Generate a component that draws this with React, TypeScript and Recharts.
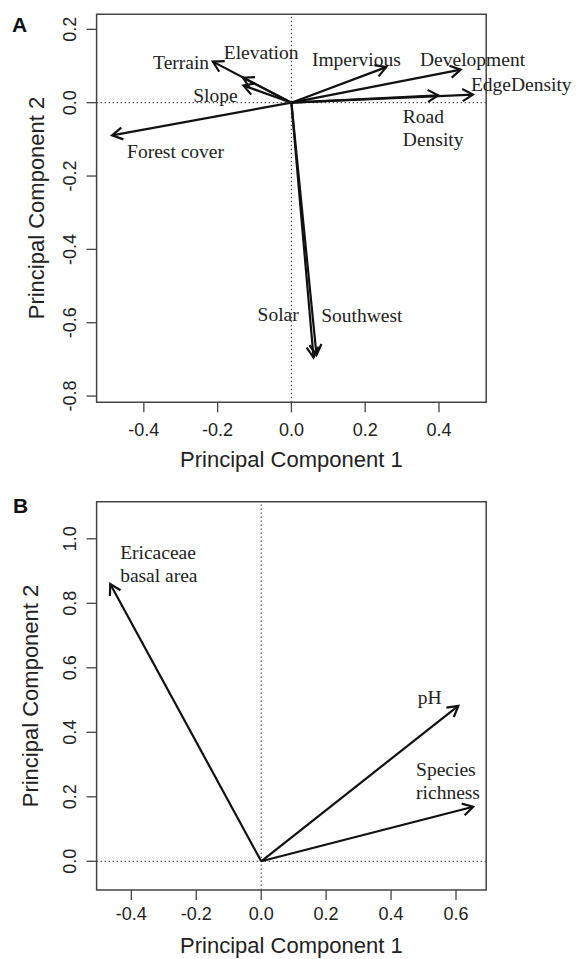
import React from "react";
import { ScatterChart, Scatter, XAxis, YAxis, ReferenceLine, ReferenceDot, ReferenceArea } from "recharts";

// Panel A: landscape variable loadings
const varsA = ["Terrain", "Elevation", "Slope", "Impervious", "Development", "Road Density", "EdgeDensity", "Forest cover", "Solar", "Southwest"];
const pc1A = [-0.213, -0.131, -0.13, 0.257, 0.459, 0.398, 0.492, -0.486, 0.06, 0.068];
const pc2A = [0.112, 0.068, 0.047, 0.097, 0.09, 0.02, 0.022, -0.089, -0.695, -0.688];
const labelsA = ["Terrain", "Elevation", "Slope", "Impervious", "Development", "Road\nDensity", "EdgeDensity", "Forest cover", "Solar", "Southwest"];
const labelPc1A = [-0.299, -0.082, -0.206, 0.176, 0.491, 0.302, 0.623, -0.314, -0.036, 0.191];
const labelPc2A = [0.112, 0.138, 0.022, 0.12, 0.12, -0.069, 0.052, -0.132, -0.576, -0.58];
const xTicksA = [-0.4, -0.2, 0, 0.2, 0.4];
const yTicksA = [-0.8, -0.6, -0.4, -0.2, 0, 0.2];

// Panel B: plot variable loadings
const varsB = ["Ericaceae basal area", "pH", "Species richness"];
const pc1B = [-0.465, 0.607, 0.653];
const pc2B = [0.86, 0.482, 0.169];
const labelsB = ["Ericaceae\nbasal area", "pH", "Species\nrichness"];
const labelPc1B = [-0.4345, 0.519, 0.477];
const labelPc2B = [0.9225, 0.5085, 0.249];
const xTicksB = [-0.4, -0.2, 0, 0.2, 0.4, 0.6];
const yTicksB = [0, 0.2, 0.4, 0.6, 0.8, 1.0];

const LEFT_ALIGNED = new Set(["Road\nDensity", "Ericaceae\nbasal area", "Species\nrichness"]);

const SANS = "'Liberation Sans', Arial, Helvetica, sans-serif";
const SERIF = "'Liberation Serif', 'Times New Roman', serif";
const AXIS = "#444";

function Arrow(props: any) {
  const { x1, y1, x2, y2 } = props;
  const a = Math.atan2(y2 - y1, x2 - x1);
  const len = 12;
  const sp = Math.PI / 6;
  const lx = x2 - len * Math.cos(a - sp);
  const ly = y2 - len * Math.sin(a - sp);
  const rx = x2 - len * Math.cos(a + sp);
  const ry = y2 - len * Math.sin(a + sp);
  return (
    <g>
      <line x1={x1} y1={y1} x2={x2} y2={y2} stroke="#111" strokeWidth={2.2} />
      <polyline points={`${lx},${ly} ${x2},${y2} ${rx},${ry}`} fill="none" stroke="#111" strokeWidth={2.2} />
    </g>
  );
}

function labelShape(text: string) {
  return (p: any) => {
    const lines = text.split("\n");
    const lh = 23;
    const y0 = p.cy - ((lines.length - 1) * lh) / 2;
    return (
      <text x={p.cx} y={y0} textAnchor={LEFT_ALIGNED.has(text) ? "start" : "middle"} dominantBaseline="central" fontFamily={SERIF} fontSize={19.5} fill="#222">
        {lines.map((l, i) => (
          <tspan key={i} x={p.cx} dy={i === 0 ? 0 : lh}>{l}</tspan>
        ))}
      </text>
    );
  };
}

const fmt = (v: number) => v.toFixed(1);

const xTick = (dy: number) => (p: any) => (
  <text x={p.x} y={p.y + dy} textAnchor="middle" dominantBaseline="central" fontFamily={SANS} fontSize={18} fill="#222">
    {fmt(p.payload.value)}
  </text>
);

const yTick = (dx: number) => (p: any) => (
  <text x={p.x + dx} y={p.y} textAnchor="middle" dominantBaseline="central" fontFamily={SANS} fontSize={18} fill="#222" transform={`rotate(-90 ${p.x + dx} ${p.y})`}>
    {fmt(p.payload.value)}
  </text>
);

type PanelProps = {
  top: number;
  height: number;
  marginTop: number;
  xAxisHeight: number;
  xDomain: [number, number];
  yDomain: [number, number];
  xTicks: number[];
  yTicks: number[];
  names: string[];
  pc1: number[];
  pc2: number[];
  labels: string[];
  labelPc1: number[];
  labelPc2: number[];
  xTickDy: number;
};

function Panel(props: PanelProps) {
  const tips = props.names.map((name, i) => ({ name, pc1: props.pc1[i], pc2: props.pc2[i] }));
  return (
    <div style={{ position: "absolute", left: 0, top: props.top }}>
      <ScatterChart width={583} height={props.height} margin={{ top: props.marginTop, right: 96.8, bottom: 0, left: 0 }}>
        <XAxis
          type="number"
          dataKey="pc1"
          domain={props.xDomain}
          allowDataOverflow
          ticks={props.xTicks}
          height={props.xAxisHeight}
          axisLine={false}
          tickSize={10}
          tickMargin={2}
          tickLine={{ stroke: AXIS, strokeWidth: 1.3 }}
          tick={xTick(props.xTickDy)}
          interval={0}
        />
        <YAxis
          type="number"
          dataKey="pc2"
          domain={props.yDomain}
          allowDataOverflow
          ticks={props.yTicks}
          width={96.6}
          axisLine={false}
          tickSize={10}
          tickMargin={2}
          tickLine={{ stroke: AXIS, strokeWidth: 1.3 }}
          tick={yTick(-15)}
          interval={0}
        />
        <ReferenceArea
          x1={props.xDomain[0]}
          x2={props.xDomain[1]}
          y1={props.yDomain[0]}
          y2={props.yDomain[1]}
          fill="none"
          fillOpacity={0}
          stroke={AXIS}
          strokeWidth={1.5}
          ifOverflow="visible"
        />
        <ReferenceLine x={0} stroke="#555" strokeWidth={1.2} strokeDasharray="1.5 2.5" />
        <ReferenceLine y={0} stroke="#555" strokeWidth={1.2} strokeDasharray="1.5 2.5" />
        {tips.map(t => (
          <ReferenceLine
            key={t.name}
            segment={[{ x: 0, y: 0 }, { x: t.pc1, y: t.pc2 }]}
            ifOverflow="visible"
            shape={Arrow}
          />
        ))}
        <Scatter data={tips} isAnimationActive={false} shape={() => <g />} />
        {props.labels.map((text, i) => (
          <ReferenceDot
            key={text}
            x={props.labelPc1[i]}
            y={props.labelPc2[i]}
            r={0}
            ifOverflow="visible"
            shape={labelShape(text)}
          />
        ))}
      </ScatterChart>
    </div>
  );
}

const titleStyle: React.CSSProperties = {
  position: "absolute",
  fontFamily: SANS,
  fontSize: 22,
  lineHeight: 1,
  color: "#222",
  whiteSpace: "nowrap",
};

const letterStyle: React.CSSProperties = {
  position: "absolute",
  fontFamily: SANS,
  fontSize: 21,
  fontWeight: "bold",
  lineHeight: 1,
  color: "#111",
};

export default function App() {
  return (
    <div style={{ position: "absolute", left: 0, top: 0, width: 583, height: 959, background: "#fff", overflow: "hidden" }}>
      <Panel
        top={0}
        height={480}
        marginTop={14.3}
        xAxisHeight={77.7}
        xDomain={[-0.528, 0.528]}
        yDomain={[-0.817, 0.241]}
        xTicks={xTicksA}
        yTicks={yTicksA}
        names={varsA}
        pc1={pc1A}
        pc2={pc2A}
        labels={labelsA}
        labelPc1={labelPc1A}
        labelPc2={labelPc2A}
        xTickDy={15.7}
      />
      <Panel
        top={480}
        height={479}
        marginTop={21.7}
        xAxisHeight={69}
        xDomain={[-0.507, 0.693]}
        yDomain={[-0.089, 1.115]}
        xTicks={xTicksB}
        yTicks={yTicksB}
        names={varsB}
        pc1={pc1B}
        pc2={pc2B}
        labels={labelsB}
        labelPc1={labelPc1B}
        labelPc2={labelPc2B}
        xTickDy={11.7}
      />
      <div style={{ ...letterStyle, left: 12, top: 14 }}>A</div>
      <div style={{ ...letterStyle, left: 13, top: 495 }}>B</div>
      <div style={{ ...titleStyle, left: 291.4, top: 460, transform: "translate(-50%, -50%)" }}>Principal Component 1</div>
      <div style={{ ...titleStyle, left: 37, top: 208.3, transform: "translate(-50%, -50%) rotate(-90deg)" }}>Principal Component 2</div>
      <div style={{ ...titleStyle, left: 291.4, top: 945.8, transform: "translate(-50%, -50%)" }}>Principal Component 1</div>
      <div style={{ ...titleStyle, left: 31, top: 695.8, transform: "translate(-50%, -50%) rotate(-90deg)" }}>Principal Component 2</div>
    </div>
  );
}
